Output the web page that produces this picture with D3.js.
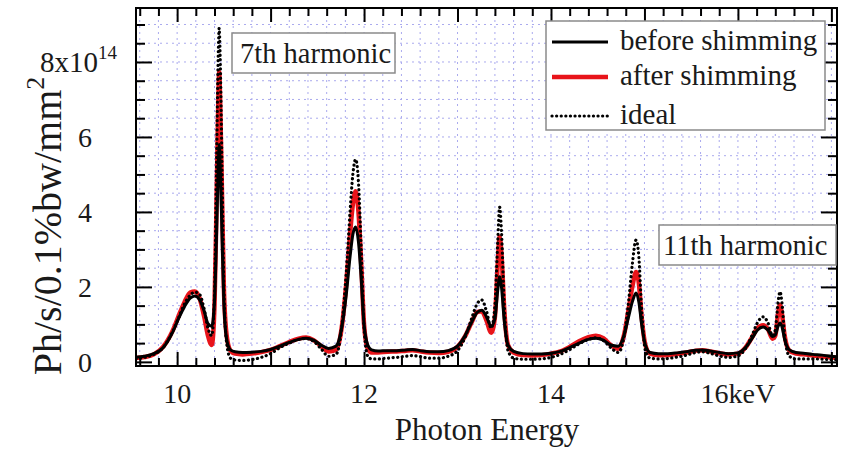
<!DOCTYPE html>
<html>
<head>
<meta charset="utf-8">
<script src="https://cdn.jsdelivr.net/npm/d3@7"></script>
<style>
  html, body { margin: 0; padding: 0; background: #fff; }
  svg { display: block; }
  .serif { font-family: "Liberation Serif"; }
</style>
</head>
<body>
<svg id="chart" width="848" height="449"></svg>
<script>
// Photon energy sample points (keV)
const energy = [
  9.56, 9.65, 9.75, 9.85, 9.95, 10.02, 10.08, 10.14, 10.19, 10.24, 10.29, 10.33, 10.37, 10.40, 10.42, 10.44,
  10.45, 10.46, 10.48, 10.50, 10.53, 10.57, 10.62, 10.70, 10.80, 10.90, 11.00, 11.10, 11.20, 11.30, 11.38, 11.46,
  11.54, 11.62, 11.70, 11.76, 11.81, 11.85, 11.88, 11.91, 11.94, 11.97, 12.00, 12.04, 12.08, 12.15, 12.25, 12.35,
  12.45, 12.52, 12.60, 12.70, 12.80, 12.90, 13.00, 13.08, 13.15, 13.21, 13.26, 13.31, 13.36, 13.40, 13.43, 13.45,
  13.47, 13.50, 13.54, 13.60, 13.70, 13.80, 13.90, 14.00, 14.10, 14.20, 14.30, 14.40, 14.48, 14.56, 14.64, 14.72,
  14.78, 14.83, 14.87, 14.91, 14.94, 14.97, 15.01, 15.06, 15.15, 15.25, 15.35, 15.45, 15.55, 15.62, 15.70, 15.80,
  15.90, 16.00, 16.08, 16.15, 16.21, 16.27, 16.32, 16.37, 16.40, 16.43, 16.45, 16.47, 16.50, 16.55, 16.62, 16.70,
  16.80, 16.90, 17.00, 17.06
];

// Brilliance, units of 1e14 Ph/s/0.1%bw/mm^2
const beforeShimming = [
  0.12, 0.15, 0.22, 0.38, 0.78, 1.18, 1.48, 1.70, 1.76, 1.66, 1.35, 1.02, 0.95, 1.60, 3.20, 5.20,
  5.80, 5.30, 3.40, 1.60, 0.60, 0.32, 0.27, 0.25, 0.26, 0.28, 0.33, 0.42, 0.52, 0.60, 0.63, 0.58,
  0.45, 0.36, 0.42, 0.90, 1.80, 2.80, 3.40, 3.60, 3.20, 2.20, 1.00, 0.45, 0.32, 0.29, 0.30, 0.30,
  0.32, 0.33, 0.30, 0.27, 0.27, 0.30, 0.42, 0.70, 1.05, 1.32, 1.38, 1.20, 0.95, 1.15, 1.90, 2.27,
  2.00, 1.10, 0.45, 0.28, 0.22, 0.21, 0.21, 0.23, 0.28, 0.38, 0.50, 0.60, 0.63, 0.58, 0.45, 0.42,
  0.70, 1.20, 1.60, 1.84, 1.60, 1.00, 0.45, 0.25, 0.22, 0.22, 0.24, 0.27, 0.31, 0.32, 0.29, 0.25,
  0.22, 0.24, 0.38, 0.62, 0.85, 0.93, 0.85, 0.68, 0.72, 0.95, 1.04, 0.95, 0.60, 0.32, 0.25, 0.23,
  0.20, 0.18, 0.15, 0.14
];

const afterShimming = [
  0.10, 0.13, 0.20, 0.40, 0.82, 1.25, 1.60, 1.85, 1.88, 1.70, 1.20, 0.70, 0.45, 1.50, 4.00, 6.90,
  7.73, 7.00, 4.50, 2.00, 0.70, 0.30, 0.22, 0.20, 0.22, 0.26, 0.32, 0.42, 0.53, 0.62, 0.65, 0.58,
  0.42, 0.28, 0.32, 0.90, 2.10, 3.40, 4.20, 4.55, 4.00, 2.60, 1.00, 0.35, 0.25, 0.25, 0.27, 0.28,
  0.30, 0.31, 0.28, 0.25, 0.24, 0.27, 0.40, 0.68, 1.05, 1.33, 1.35, 1.10, 0.78, 1.20, 2.60, 3.33,
  2.90, 1.40, 0.45, 0.25, 0.18, 0.17, 0.18, 0.22, 0.28, 0.40, 0.55, 0.66, 0.70, 0.63, 0.45, 0.35,
  0.70, 1.40, 2.00, 2.40, 2.10, 1.20, 0.45, 0.22, 0.18, 0.18, 0.21, 0.25, 0.30, 0.31, 0.28, 0.23,
  0.20, 0.22, 0.38, 0.65, 0.90, 0.98, 0.88, 0.62, 0.70, 1.30, 1.52, 1.30, 0.70, 0.30, 0.22, 0.20,
  0.17, 0.14, 0.12, 0.11
];

const ideal = [
  0.08, 0.12, 0.20, 0.38, 0.80, 1.20, 1.55, 1.78, 1.86, 1.80, 1.40, 0.90, 0.70, 1.80, 5.00, 8.20,
  8.90, 8.20, 5.20, 2.00, 0.50, 0.10, 0.05, 0.04, 0.06, 0.12, 0.22, 0.38, 0.50, 0.60, 0.62, 0.55,
  0.35, 0.15, 0.20, 0.90, 2.40, 4.00, 5.00, 5.40, 4.80, 3.00, 0.90, 0.15, 0.08, 0.08, 0.10, 0.12,
  0.15, 0.17, 0.14, 0.10, 0.10, 0.15, 0.30, 0.65, 1.15, 1.55, 1.65, 1.35, 0.90, 1.50, 3.20, 4.13,
  3.50, 1.50, 0.30, 0.10, 0.07, 0.07, 0.08, 0.12, 0.20, 0.33, 0.48, 0.60, 0.64, 0.57, 0.38, 0.25,
  0.65, 1.60, 2.60, 3.25, 2.80, 1.40, 0.30, 0.10, 0.08, 0.09, 0.13, 0.18, 0.25, 0.27, 0.23, 0.16,
  0.12, 0.16, 0.35, 0.70, 1.05, 1.20, 1.05, 0.70, 0.85, 1.60, 1.87, 1.60, 0.70, 0.15, 0.08, 0.08,
  0.08, 0.07, 0.06, 0.06
];

const xTickValues = [10, 12, 14, 16];
const xTickLabels = ["10", "12", "14", "16keV"];
const yTickValues = [0, 2, 4, 6, 8];
const yTickLabels = ["0", "2", "4", "6", "8x10"];
const yTopExponent = "14";

const legendLabels = ["before shimming", "after shimming", "ideal"];
const harmonicLabels = ["7th harmonic", "11th harmonic"];

// ---- layout ----
const W = 848, H = 449;
const margin = { left: 136, right: 11, top: 8, bottom: 83 };
const iw = W - margin.left - margin.right;
const ih = H - margin.top - margin.bottom;
const FONT = '"Liberation Serif"';

const svg = d3.select("#chart");
const g = svg.append("g").attr("transform", `translate(${margin.left},${margin.top})`);

const x = d3.scaleLinear().domain([9.56, 17.06]).range([0, iw]);
const y = d3.scaleLinear().domain([-0.11, 9.44]).range([ih, 0]);

// ---- grid ----
const gridX = d3.range(9.6, 17.05, 0.2);
const gridY = d3.range(0.5, 9.25, 0.5);
const grid = g.append("g").attr("stroke", "#aaaaee").attr("stroke-width", 1).attr("stroke-dasharray", "2,4");
grid.selectAll("line.gx").data(gridX).join("line")
  .attr("x1", d => x(d)).attr("x2", d => x(d)).attr("y1", 0).attr("y2", ih);
grid.selectAll("line.gy").data(gridY).join("line")
  .attr("x1", 0).attr("x2", iw).attr("y1", d => y(d)).attr("y2", d => y(d));

// ---- curves ----
const line = vals => d3.line()
  .x((d, i) => x(energy[i]))
  .y(d => y(d))
  .curve(d3.curveMonotoneX)(vals);

svg.append("clipPath").attr("id", "plotclip").append("rect")
  .attr("x", 0).attr("y", 0).attr("width", iw).attr("height", ih);
const curves = g.append("g").attr("clip-path", "url(#plotclip)");

curves.append("path").attr("d", line(afterShimming))
  .attr("fill", "none").attr("stroke", "#e8141a").attr("stroke-width", 4.5).attr("stroke-linejoin", "round");
curves.append("path").attr("d", line(beforeShimming))
  .attr("fill", "none").attr("stroke", "#000").attr("stroke-width", 3).attr("stroke-linejoin", "round");
curves.append("path").attr("d", line(ideal))
  .attr("fill", "none").attr("stroke", "#000").attr("stroke-width", 3.2)
  .attr("stroke-linecap", "round").attr("stroke-dasharray", "0.1,4.5");

// ---- axes: inward ticks on all four sides ----
const xMinor = d3.range(9.6, 17.05, 0.2).filter(v => Math.abs(v - Math.round(v)) > 1e-6);
const xMajor = d3.range(10, 17.01, 1);
const yMinor = d3.range(0.5, 9.3, 0.5).filter(v => Math.abs(v / 2 - Math.round(v / 2)) > 1e-6);
const yMajor = yTickValues;

function styleAxis(sel) {
  sel.select(".domain").remove();
  sel.selectAll(".tick line").attr("stroke", "#000").attr("stroke-width", 2);
  sel.selectAll(".tick text").remove();
}
const majLen = 14, minLen = 8;
g.append("g").attr("transform", `translate(0,${ih})`)
  .call(d3.axisBottom(x).tickValues(xMajor).tickSize(-majLen)).call(styleAxis);
g.append("g").attr("transform", `translate(0,${ih})`)
  .call(d3.axisBottom(x).tickValues(xMinor).tickSize(-minLen)).call(styleAxis);
g.append("g").call(d3.axisTop(x).tickValues(xMajor).tickSize(-majLen)).call(styleAxis);
g.append("g").call(d3.axisTop(x).tickValues(xMinor).tickSize(-minLen)).call(styleAxis);
g.append("g").call(d3.axisLeft(y).tickValues(yMajor).tickSize(-majLen - 2)).call(styleAxis);
g.append("g").call(d3.axisLeft(y).tickValues(yMinor).tickSize(-minLen - 1)).call(styleAxis);
g.append("g").attr("transform", `translate(${iw},0)`)
  .call(d3.axisRight(y).tickValues(yMajor).tickSize(-majLen - 2)).call(styleAxis);
g.append("g").attr("transform", `translate(${iw},0)`)
  .call(d3.axisRight(y).tickValues(yMinor).tickSize(-minLen - 1)).call(styleAxis);

// frame
g.append("rect").attr("x", 0).attr("y", 0).attr("width", iw).attr("height", ih)
  .attr("fill", "none").attr("stroke", "#000").attr("stroke-width", 2);

// text layer
const tx = svg.append("g").attr("class", "serif");

function addText(parent, px, py, str, size, anchor) {
  return parent.append("text")
    .attr("class", "serif")
    .style("font-family", FONT)
    .attr("x", px).attr("y", py)
    .attr("font-size", size).attr("fill", "#1a1a1a")
    .attr("text-anchor", anchor || "start")
    .text(str);
}

// x tick labels
xTickValues.forEach((v, i) => addText(tx, margin.left + x(v), 403, xTickLabels[i], 28, "middle"));

// y tick labels
yTickValues.forEach((v, i) => {
  const py = margin.top + y(v) + 10;
  if (i === yTickValues.length - 1) {
    const t = addText(tx, 40, py, "", 29, "start");
    t.append("tspan").text(yTickLabels[i]);
    t.append("tspan").attr("font-size", 19).attr("dy", -13).text(yTopExponent);
  } else {
    addText(tx, 92, py, yTickLabels[i], 28, "end");
  }
});

// axis titles
addText(tx, 487, 440, "Photon Energy", 31, "middle");
const yt = tx.append("text").attr("class", "serif")
  .style("font-family", FONT)
  .attr("transform", "translate(61,226) rotate(-90)")
  .attr("font-size", 40).attr("fill", "#1a1a1a").attr("text-anchor", "middle");
yt.append("tspan").text("Ph/s/0.1%bw/mm");
yt.append("tspan").attr("font-size", 26).attr("dy", -17).text("2");

// harmonic annotations
function labelBox(bx, by, bw, bh, str, px, py) {
  svg.append("rect").attr("x", bx).attr("y", by).attr("width", bw).attr("height", bh)
    .attr("fill", "#fff").attr("stroke", "#8a8a8a").attr("stroke-width", 1.5);
  addText(svg, px, py, str, 28.5, "start");
}
labelBox(232, 33, 163, 40, harmonicLabels[0], 240, 63);
labelBox(659, 225, 177, 40, harmonicLabels[1], 663, 255);

// legend
const lg = svg.append("g");
lg.append("rect").attr("x", 546).attr("y", 21).attr("width", 279).attr("height", 109)
  .attr("fill", "#fff").attr("stroke", "#8a8a8a").attr("stroke-width", 1.5);
const legendStyles = [
  { stroke: "#000", width: 3, dash: null, cap: "butt" },
  { stroke: "#e8141a", width: 4.5, dash: null, cap: "butt" },
  { stroke: "#000", width: 3.2, dash: "0.1,4.5", cap: "round" }
];
const legendY = [42, 77, 116];
legendLabels.forEach((lab, i) => {
  const s = legendStyles[i];
  lg.append("line").attr("x1", 552).attr("x2", 608).attr("y1", legendY[i]).attr("y2", legendY[i])
    .attr("stroke", s.stroke).attr("stroke-width", s.width)
    .attr("stroke-linecap", s.cap).attr("stroke-dasharray", s.dash);
  addText(lg, 620, legendY[i] + 8, lab, 29, "start");
});
</script>
</body>
</html>
